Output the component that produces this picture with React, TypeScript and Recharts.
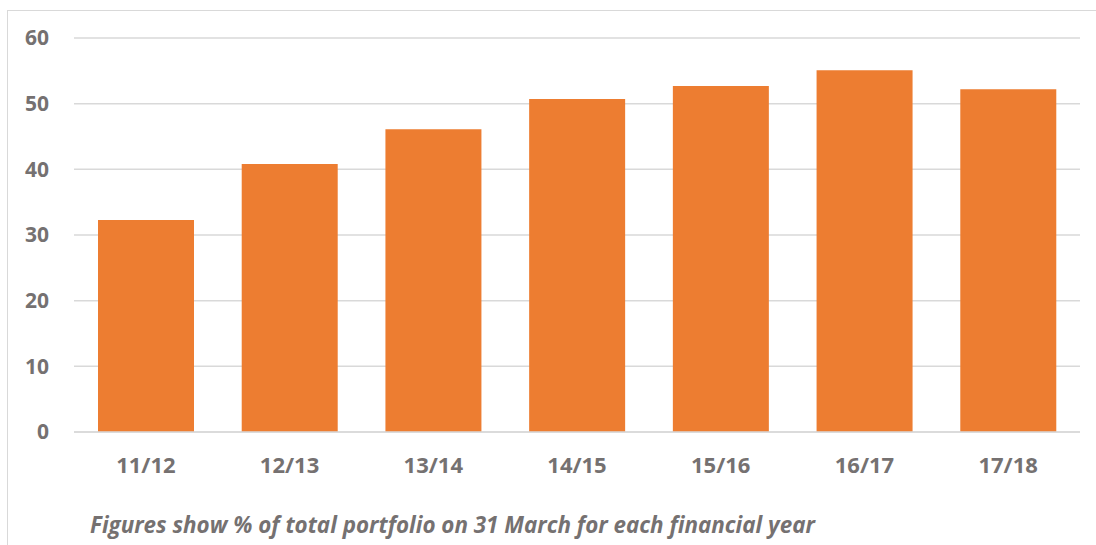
import React from 'react';
import { BarChart, Bar, XAxis, YAxis, CartesianGrid } from 'recharts';

const categories = ['11/12', '12/13', '13/14', '14/15', '15/16', '16/17', '17/18'];
const values = [32.3, 40.8, 46.1, 50.7, 52.7, 55.1, 52.2];
const yTicks = [0, 10, 20, 30, 40, 50, 60];
const caption = 'Figures show % of total portfolio on 31 March for each financial year';

const data = categories.map((c, i) => ({ name: c, value: values[i] }));

const textColor = '#757171';
const font = '"Open Sans", sans-serif';

export default function App() {
  return (
    <div style={{ position: 'absolute', left: 0, top: 0, width: 1096, height: 545, overflow: 'hidden', background: '#fff' }}>
      <div style={{ position: 'absolute', left: 7, top: 10, width: 1200, height: 600, border: '1px solid #d9d9d9', boxSizing: 'border-box' }} />
      <div style={{ position: 'absolute', left: 0, top: 0 }}>
        <BarChart
          width={1096}
          height={545}
          data={data}
          margin={{ top: 38, right: 16, left: 0, bottom: 83 }}
          barSize={96}
        >
          <CartesianGrid vertical={false} stroke="#d9d9d9" strokeWidth={1.5} />
          <XAxis
            dataKey="name"
            axisLine={{ stroke: '#d9d9d9', strokeWidth: 1.5 }}
            tickLine={false}
            tickMargin={19}
            height={30}
            tick={{ fill: textColor, fontSize: 22, fontWeight: 700, fontFamily: font }}
          />
          <YAxis
            domain={[0, 60]}
            ticks={yTicks}
            width={74}
            axisLine={false}
            tickLine={false}
            tickMargin={19}
            tick={{ fill: textColor, fontSize: 21, fontWeight: 700, fontFamily: font }}
          />
          <Bar dataKey="value" fill="#ED7D31" isAnimationActive={false} />
        </BarChart>
      </div>
      <div
        style={{
          position: 'absolute',
          left: 90,
          top: 514,
          fontFamily: font,
          fontStyle: 'italic',
          fontWeight: 700,
          fontSize: 22.4,
          lineHeight: 1,
          color: textColor,
          whiteSpace: 'nowrap',
        }}
      >
        {caption}
      </div>
    </div>
  );
}
